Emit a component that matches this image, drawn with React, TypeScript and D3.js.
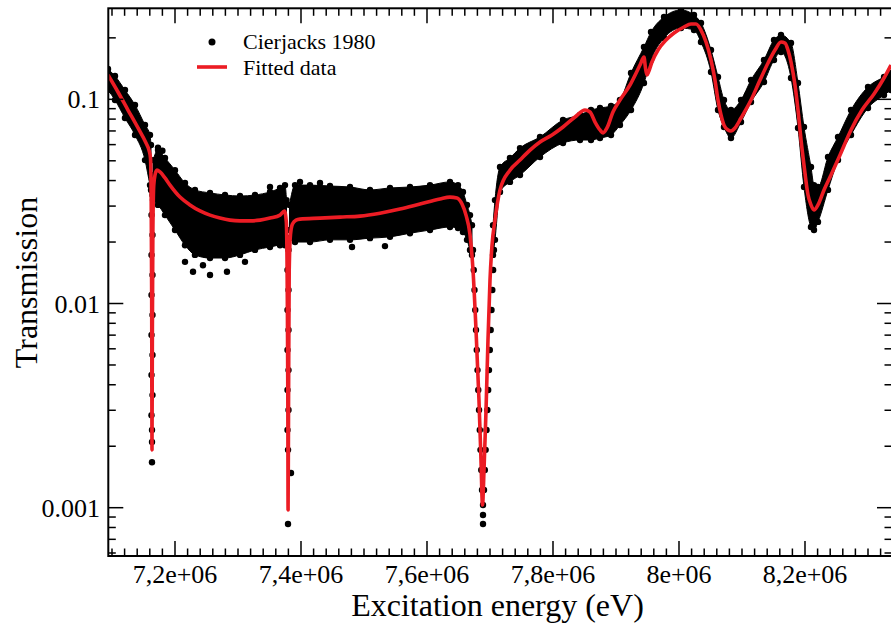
import React from "react";
import * as d3 from "d3";

// ---------- data (energy in MeV, transmission) ----------
const fitEnergyMeV = [7.0937,7.1095,7.1254,7.1413,7.1540,7.1587,7.1611,7.1622,7.1630,7.1635,7.1641,7.1649,7.1663,7.1683,7.1714,7.1762,7.1841,7.1921,7.2079,7.2238,7.2397,7.2556,7.2714,7.2873,7.3032,7.3190,7.3349,7.3508,7.3667,7.3738,7.3767,7.3783,7.3791,7.3795,7.3802,7.3813,7.3833,7.3865,7.3921,7.3984,7.4302,7.4619,7.4937,7.5254,7.5571,7.5889,7.6206,7.6365,7.6476,7.6556,7.6619,7.6683,7.6730,7.6778,7.6825,7.6857,7.6881,7.6905,7.6937,7.6968,7.7000,7.7032,7.7079,7.7159,7.7317,7.7476,7.7635,7.7794,7.7984,7.8159,7.8349,7.8508,7.8587,7.8667,7.8746,7.8794,7.8857,7.8952,7.9063,7.9222,7.9381,7.9444,7.9468,7.9492,7.9516,7.9571,7.9667,7.9794,7.9921,8.0079,8.0190,8.0270,8.0349,8.0429,8.0508,8.0571,8.0619,8.0667,8.0714,8.0778,8.0825,8.0889,8.0984,8.1143,8.1286,8.1413,8.1524,8.1619,8.1683,8.1730,8.1778,8.1841,8.1889,8.1937,8.1984,8.2048,8.2095,8.2143,8.2206,8.2302,8.2413,8.2556,8.2730,8.2905,8.3095,8.3254,8.3365];
const fitTransmission = [0.1315,0.1086,0.0886,0.0724,0.0611,0.0564,0.0516,0.0321,0.0104,0.00192,0.00742,0.0229,0.0380,0.0426,0.0450,0.0441,0.0412,0.0380,0.0332,0.0304,0.0284,0.0271,0.0262,0.0256,0.0254,0.0254,0.0256,0.0262,0.0271,0.0284,0.0251,0.0104,0.00337,0.000975,0.00301,0.0146,0.0217,0.0245,0.0256,0.0259,0.0262,0.0265,0.0268,0.0277,0.0290,0.0307,0.0325,0.0332,0.0329,0.0307,0.0271,0.0217,0.0146,0.00742,0.00337,0.00171,0.00103,0.00153,0.00301,0.00663,0.0130,0.0193,0.0256,0.0360,0.0450,0.0504,0.0564,0.0618,0.0669,0.0732,0.0819,0.0886,0.0867,0.0774,0.0708,0.0684,0.0724,0.0867,0.0992,0.1175,0.1472,0.1611,0.1423,0.1315,0.1360,0.1523,0.1743,0.1951,0.2112,0.2260,0.2338,0.2338,0.2185,0.1908,0.1558,0.1243,0.0992,0.0838,0.0748,0.0708,0.0700,0.0724,0.0810,0.0992,0.1243,0.1506,0.1743,0.1908,0.1886,0.1743,0.1523,0.1175,0.0886,0.0632,0.0477,0.0340,0.0304,0.0287,0.0304,0.0360,0.0426,0.0534,0.0708,0.0886,0.1062,0.1272,0.1472];

// dense measured-point cloud (Cierjacks 1980): upper / lower envelope; null = gap at a narrow dip
const cloudEnergyMeV = [7.0937,7.1048,7.1206,7.1365,7.1524,7.1603,7.1619,null,7.1651,7.1730,7.1841,7.2000,7.2159,7.2317,7.2556,7.2794,7.3032,7.3270,7.3508,7.3667,7.3746,7.3770,null,7.3817,7.3905,7.4143,7.4460,7.4778,7.5095,7.5413,7.5730,7.6048,7.6365,7.6492,7.6571,7.6635,7.6683,7.6714,null,7.7048,7.7079,7.7159,7.7317,7.7476,7.7794,7.8159,7.8429,7.8603,7.8746,7.8921,7.9063,7.9238,7.9444,7.9556,7.9762,8.0032,8.0238,8.0349,8.0508,8.0619,8.0714,8.0825,8.0984,8.1143,8.1349,8.1508,8.1619,8.1778,8.1889,8.1984,8.2095,8.2143,8.2206,8.2365,8.2524,8.2730,8.3000,8.3254,8.3365];
const cloudUpper = [0.1407,0.1300,0.1110,0.0938,0.0748,0.0669,0.0597,null,0.0504,0.0564,0.0516,0.0450,0.0389,0.0360,0.0348,0.0340,0.0336,0.0340,0.0352,0.0368,0.0380,0.0321,null,0.0304,0.0380,0.0380,0.0376,0.0372,0.0360,0.0368,0.0372,0.0380,0.0394,0.0380,0.0352,0.0304,0.0271,0.0242,null,0.0242,0.0321,0.0466,0.0516,0.0577,0.0654,0.0792,0.0838,0.0886,0.0907,0.0927,0.0992,0.1345,0.1803,0.2136,0.2529,0.2738,0.2587,0.2364,0.1743,0.1286,0.0992,0.0886,0.0992,0.1243,0.1558,0.1951,0.2064,0.1886,0.1202,0.0732,0.0466,0.0380,0.0372,0.0522,0.0654,0.0886,0.1149,0.1286,0.1345];
const cloudLower = [0.1110,0.0992,0.0810,0.0669,0.0504,0.0380,0.0360,null,0.0321,0.0304,0.0271,0.0229,0.0193,0.0173,0.0167,0.0167,0.0173,0.0183,0.0189,0.0193,0.0193,0.0205,null,0.0209,0.0200,0.0200,0.0205,0.0205,0.0209,0.0212,0.0221,0.0229,0.0237,0.0234,0.0224,0.0205,0.0183,0.0173,null,0.0173,0.0205,0.0352,0.0394,0.0426,0.0522,0.0611,0.0632,0.0632,0.0646,0.0669,0.0748,0.0886,0.1202,0.1558,0.1996,0.2234,0.2185,0.1908,0.1360,0.0886,0.0732,0.0646,0.0774,0.0970,0.1216,0.1558,0.1704,0.1272,0.0724,0.0372,0.0237,0.0229,0.0251,0.0360,0.0504,0.0669,0.0907,0.1050,0.1110];

// individual measured points inside the narrow dips and isolated outliers
const pointEnergyMeV = [
  7.1627,7.1643,7.1627,7.1643,7.1627,7.1643,7.1627,7.1643,7.1627,7.1643,7.1627,7.1643,7.1627,7.1635,7.1635,7.1635,
  7.3786,7.3802,7.3786,7.3802,7.3786,7.3802,7.3786,7.3802,7.3786,7.3802,7.3786,7.3794,7.3841,7.3794,
  7.6730,7.6742,7.6754,7.6766,7.6778,7.6790,7.6802,7.6814,7.6826,7.6838,7.6849,7.6861,7.6873,
  7.7063,7.7050,7.7037,7.7024,7.7011,7.6997,7.6984,7.6971,7.6958,7.6945,7.6931,7.6918,7.6905,
  7.6889,7.6889,7.6889,
  7.2286,7.2556,7.2825,7.2159,7.2444,7.3111,7.3984,7.4302,7.3508,7.4810,7.5333,7.1730,7.1800
];
const pointTransmission = [
  0.04258,0.03400,0.02713,0.02165,0.01728,0.01379,0.01100,0.00879,0.00701,0.00560,0.00447,0.00356,0.00284,0.00240,0.00210,0.00167,
  0.02291,0.01828,0.01459,0.01165,0.00929,0.00742,0.00592,0.00472,0.00377,0.00301,0.00240,0.00192,0.00148,0.000832,
  0.01828,0.01459,0.01165,0.00929,0.00742,0.00592,0.00472,0.00377,0.00301,0.00240,0.00192,0.00153,0.00122,
  0.01828,0.01459,0.01165,0.00929,0.00742,0.00592,0.00472,0.00377,0.00301,0.00240,0.00192,0.00153,0.00122,
  0.00103,0.000921,0.000832,
  0.0143,0.0138,0.0143,0.0160,0.0154,0.0160,0.0394,0.0389,0.0372,0.0189,0.0191,0.0580,0.0560
];

const xTickValues = [7.2e6, 7.4e6, 7.6e6, 7.8e6, 8.0e6, 8.2e6];
const xTickLabels = ["7,2e+06", "7,4e+06", "7,6e+06", "7,8e+06", "8e+06", "8,2e+06"];
const yTickValues = [0.001, 0.01, 0.1];
const yTickLabels = ["0.001", "0.01", "0.1"];
const seriesNames = ["Cierjacks 1980", "Fitted data"];

// ---------- layout ----------
const W = 891, H = 630;
const L = 108.3, R = 892, T = 8.3, B = 556;
const FONT = "'Liberation Serif', 'Times New Roman', serif";
const RED = "#ec1c24";

export default function App() {
  const x = d3.scaleLinear().domain([7.09413e6, 8.3381e6]).range([L, R]);
  const y = d3.scaleLog().domain([0.00058, 0.2791]).range([B, T]);

  const fit = fitEnergyMeV.map((e, i) => [e * 1e6, fitTransmission[i]] as [number, number]);
  const fitPath = d3.line<[number, number]>()
    .x(d => x(d[0])).y(d => y(d[1]))
    .curve(d3.curveMonotoneX)(fit) || "";

  const cloud = cloudEnergyMeV.map((e, i) => ({ e: e == null ? null : e * 1e6, hi: cloudUpper[i], lo: cloudLower[i] }));
  const cloudPath = d3.area<any>()
    .defined(d => d.e != null)
    .x(d => x(d.e)).y0(d => y(d.lo)).y1(d => y(d.hi))
    .curve(d3.curveMonotoneX)(cloud) || "";
  const cloudEdge = cloud.filter(d => d.e != null);

  const pts = pointEnergyMeV.map((e, i) => [e * 1e6, pointTransmission[i]]);

  const xMinor = d3.range(7.10e6, 8.3401e6, 0.02e6).filter(v => !xTickValues.some(m => Math.abs(m - v) < 1));
  const yMinor: number[] = [];
  for (let d = -4; d <= -1; d++) for (let k = 2; k <= 9; k++) {
    const v = k * Math.pow(10, d);
    if (v >= 0.00058 && v <= 0.2791) yMinor.push(v);
  }
  const MJ = 15, MN = 7.5;
  const tk = { stroke: "#000", strokeWidth: 1.5 };
  const r = 3.2;

  return (
    <svg width={W} height={H} style={{ position: "absolute", left: 0, top: 0, background: "#fff" }}
      fontFamily={FONT}>
      <defs>
        <clipPath id="plot"><rect x={L} y={T} width={R - L} height={B - T} /></clipPath>
      </defs>
      <rect x={0} y={0} width={W} height={H} fill="#fff" />
      <g clipPath="url(#plot)">
        <path d={cloudPath} fill="#000" stroke="#000" strokeWidth={1} />
        {cloudEdge.map((d, i) => (
          <g key={"c" + i}>
            <circle cx={x(d.e)} cy={y(d.hi)} r={r} fill="#000" />
            <circle cx={x(d.e)} cy={y(d.lo)} r={r} fill="#000" />
          </g>
        ))}
        {pts.map((p, i) => <circle key={"p" + i} cx={x(p[0])} cy={y(p[1])} r={r} fill="#000" />)}
        <path d={fitPath} fill="none" stroke={RED} strokeWidth={3.6} strokeLinejoin="round" />
      </g>

      {/* ticks */}
      {xTickValues.map(v => (
        <g key={"xm" + v}>
          <line x1={x(v)} x2={x(v)} y1={B} y2={B - MJ} {...tk} />
          <line x1={x(v)} x2={x(v)} y1={T} y2={T + MJ} {...tk} />
        </g>
      ))}
      {xMinor.map(v => (
        <g key={"xn" + v}>
          <line x1={x(v)} x2={x(v)} y1={B} y2={B - MN} {...tk} />
          <line x1={x(v)} x2={x(v)} y1={T} y2={T + MN} {...tk} />
        </g>
      ))}
      {yTickValues.map(v => (
        <g key={"ym" + v}>
          <line x1={L} x2={L + MJ} y1={y(v)} y2={y(v)} {...tk} />
          <line x1={R} x2={R - MJ} y1={y(v)} y2={y(v)} {...tk} />
        </g>
      ))}
      {yMinor.map(v => (
        <g key={"yn" + v}>
          <line x1={L} x2={L + MN} y1={y(v)} y2={y(v)} {...tk} />
          <line x1={R} x2={R - MN} y1={y(v)} y2={y(v)} {...tk} />
        </g>
      ))}
      <rect x={L} y={T} width={R - L} height={B - T} fill="none" stroke="#000" strokeWidth={2} />

      {/* tick labels */}
      {xTickValues.map((v, i) => (
        <text key={"xl" + v} x={x(v)} y={583} textAnchor="middle" fontSize={26}>{xTickLabels[i]}</text>
      ))}
      {yTickValues.map((v, i) => (
        <text key={"yl" + v} x={100} y={y(v) + 9} textAnchor="end" fontSize={26}>{yTickLabels[i]}</text>
      ))}

      {/* axis titles */}
      <text x={497.5} y={616} textAnchor="middle" fontSize={32}>Excitation energy (eV)</text>
      <text transform="translate(37,282.5) rotate(-90)" textAnchor="middle" fontSize={32}>Transmission</text>

      {/* legend */}
      <circle cx={212} cy={42} r={3.5} fill="#000" />
      <text x={243} y={49} fontSize={22}>{seriesNames[0]}</text>
      <line x1={197} x2={227} y1={67} y2={67} stroke={RED} strokeWidth={3.6} />
      <text x={243} y={75} fontSize={22}>{seriesNames[1]}</text>
    </svg>
  );
}
